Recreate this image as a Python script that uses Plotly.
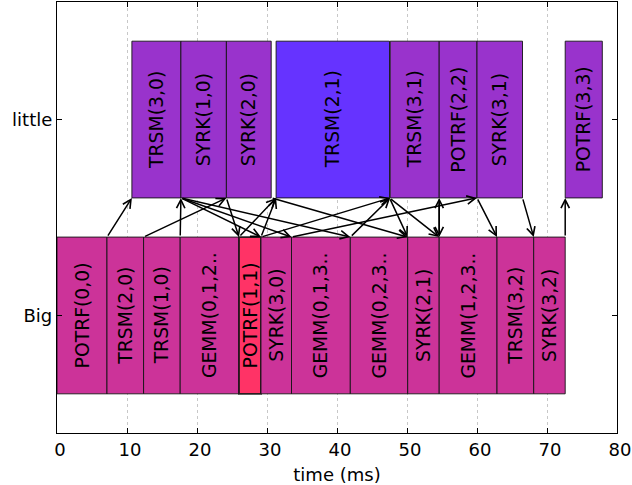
import plotly.graph_objects as go

# ---- data (ms) ----
little_tasks = ["TRSM(3,0)", "SYRK(1,0)", "SYRK(2,0)", "TRSM(2,1)", "TRSM(3,1)", "POTRF(2,2)", "SYRK(3,1)", "POTRF(3,3)"]
little_start = [10.7, 17.7, 24.2, 31.3, 47.6, 54.6, 60.0, 72.6]
little_end = [17.7, 24.2, 30.6, 47.5, 54.6, 60.0, 66.5, 77.9]

big_tasks = ["POTRF(0,0)", "TRSM(2,0)", "TRSM(1,0)", "GEMM(0,1,2..", "POTRF(1,1)", "SYRK(3,0)",
             "GEMM(0,1,3..", "GEMM(0,2,3..", "SYRK(2,1)", "GEMM(1,2,3..", "TRSM(3,2)", "SYRK(3,2)"]
big_start = [0.0, 7.14, 12.37, 17.6, 26.0, 29.14, 33.5, 41.9, 50.1, 54.6, 62.86, 68.1]
big_end = [7.14, 12.37, 17.6, 26.0, 29.14, 33.5, 41.9, 50.1, 54.6, 62.86, 68.1, 72.6]

# dependencies drawn as arrows (source -> target)
dep_src = ["POTRF(0,0)", "TRSM(2,0)", "TRSM(1,0)", "TRSM(3,0)", "TRSM(3,0)", "TRSM(3,0)",
           "SYRK(1,0)", "GEMM(0,1,2..", "POTRF(1,1)", "POTRF(1,1)", "SYRK(2,0)", "SYRK(3,0)",
           "GEMM(0,1,3..", "TRSM(2,1)", "TRSM(2,1)", "TRSM(3,1)", "SYRK(2,1)", "POTRF(2,2)",
           "SYRK(3,1)", "SYRK(3,2)"]
dep_dst = ["TRSM(3,0)", "SYRK(2,0)", "SYRK(1,0)", "SYRK(3,0)", "GEMM(0,1,3..", "GEMM(0,2,3..",
           "POTRF(1,1)", "TRSM(2,1)", "TRSM(2,1)", "TRSM(3,1)", "SYRK(2,1)", "SYRK(3,1)",
           "TRSM(3,1)", "SYRK(2,1)", "GEMM(1,2,3..", "GEMM(1,2,3..", "POTRF(2,2)", "TRSM(3,2)",
           "SYRK(3,2)", "POTRF(3,3)"]

row_labels = ["Big", "little"]
x_ticks = [0, 10, 20, 30, 40, 50, 60, 70, 80]

# ---- styles ----
FONT = "DejaVu Sans"
FS = 18
FS_BAR = 18.8
little_color = "#9933cc"
big_color = "#cc3399"
highlight = {"TRSM(2,1)": "#6633ff", "POTRF(1,1)": "#ff3366"}
BAR_H = 0.8

fig = go.Figure()

info = {}
annotations = []
for row, (names, starts, ends, base_col) in enumerate([
        (big_tasks, big_start, big_end, big_color),
        (little_tasks, little_start, little_end, little_color)]):
    cols = [highlight.get(n, base_col) for n in names]
    widths = [1.8 if n == "POTRF(1,1)" else 1.0 for n in names]
    fig.add_trace(go.Bar(
        orientation="h",
        y=[row] * len(names),
        x=[e - s for s, e in zip(starts, ends)],
        base=starts,
        width=BAR_H,
        marker=dict(color=cols, line=dict(color="rgba(20,20,20,0.9)", width=widths)),
        hoverinfo="skip",
        showlegend=False,
    ))
    for n, s, e in zip(names, starts, ends):
        info[n] = (row, s, e)
        annotations.append(dict(
            x=(s + e) / 2, y=row, xref="x", yref="y", text=n, showarrow=False,
            textangle=-90, font=dict(family=FONT, size=FS_BAR, color="black"),
            xanchor="center", yanchor="middle"))

for s_name, d_name in zip(dep_src, dep_dst):
    rs, _, se = info[s_name]
    rd, ds, _ = info[d_name]
    sy = rs + BAR_H / 2 if rs < rd else rs - BAR_H / 2
    dy = rd - BAR_H / 2 if rd > rs else rd + BAR_H / 2
    annotations.append(dict(
        x=ds, y=dy, ax=se, ay=sy, xref="x", yref="y", axref="x", ayref="y",
        showarrow=True, arrowhead=5, arrowsize=1.1, arrowwidth=1.5,
        arrowcolor="black", standoff=0, startstandoff=0, text=""))

fig.update_layout(
    width=632, height=485,
    margin=dict(l=57, r=15, t=2, b=52),
    paper_bgcolor="white", plot_bgcolor="white",
    font=dict(family=FONT, size=FS, color="black"),
    barmode="overlay",
    annotations=annotations,
    xaxis=dict(
        range=[0, 80], tickvals=x_ticks, ticktext=[str(v) for v in x_ticks],
        ticks="inside", ticklen=5, tickcolor="black", mirror="ticks",
        showline=True, linecolor="black", linewidth=1.2,
        showgrid=True, gridcolor="#c8c8c8", griddash="dot", gridwidth=1,
        zeroline=False, automargin=False, ticklabelshift=3,
        title=dict(text="time (ms)", font=dict(family=FONT, size=FS)),
        tickfont=dict(family=FONT, size=FS),
    ),
    yaxis=dict(
        range=[-0.6, 1.6], tickvals=[0, 1], ticktext=row_labels,
        ticks="inside", ticklen=5, tickcolor="black", mirror="ticks",
        showline=True, linecolor="black", linewidth=1.2,
        showgrid=False, zeroline=False, automargin=False,
        tickfont=dict(family=FONT, size=FS),
    ),
)

fig.write_html("out.html", config={"displayModeBar": False},
               post_script="document.body.style.margin='0';document.body.style.overflow='hidden';")
